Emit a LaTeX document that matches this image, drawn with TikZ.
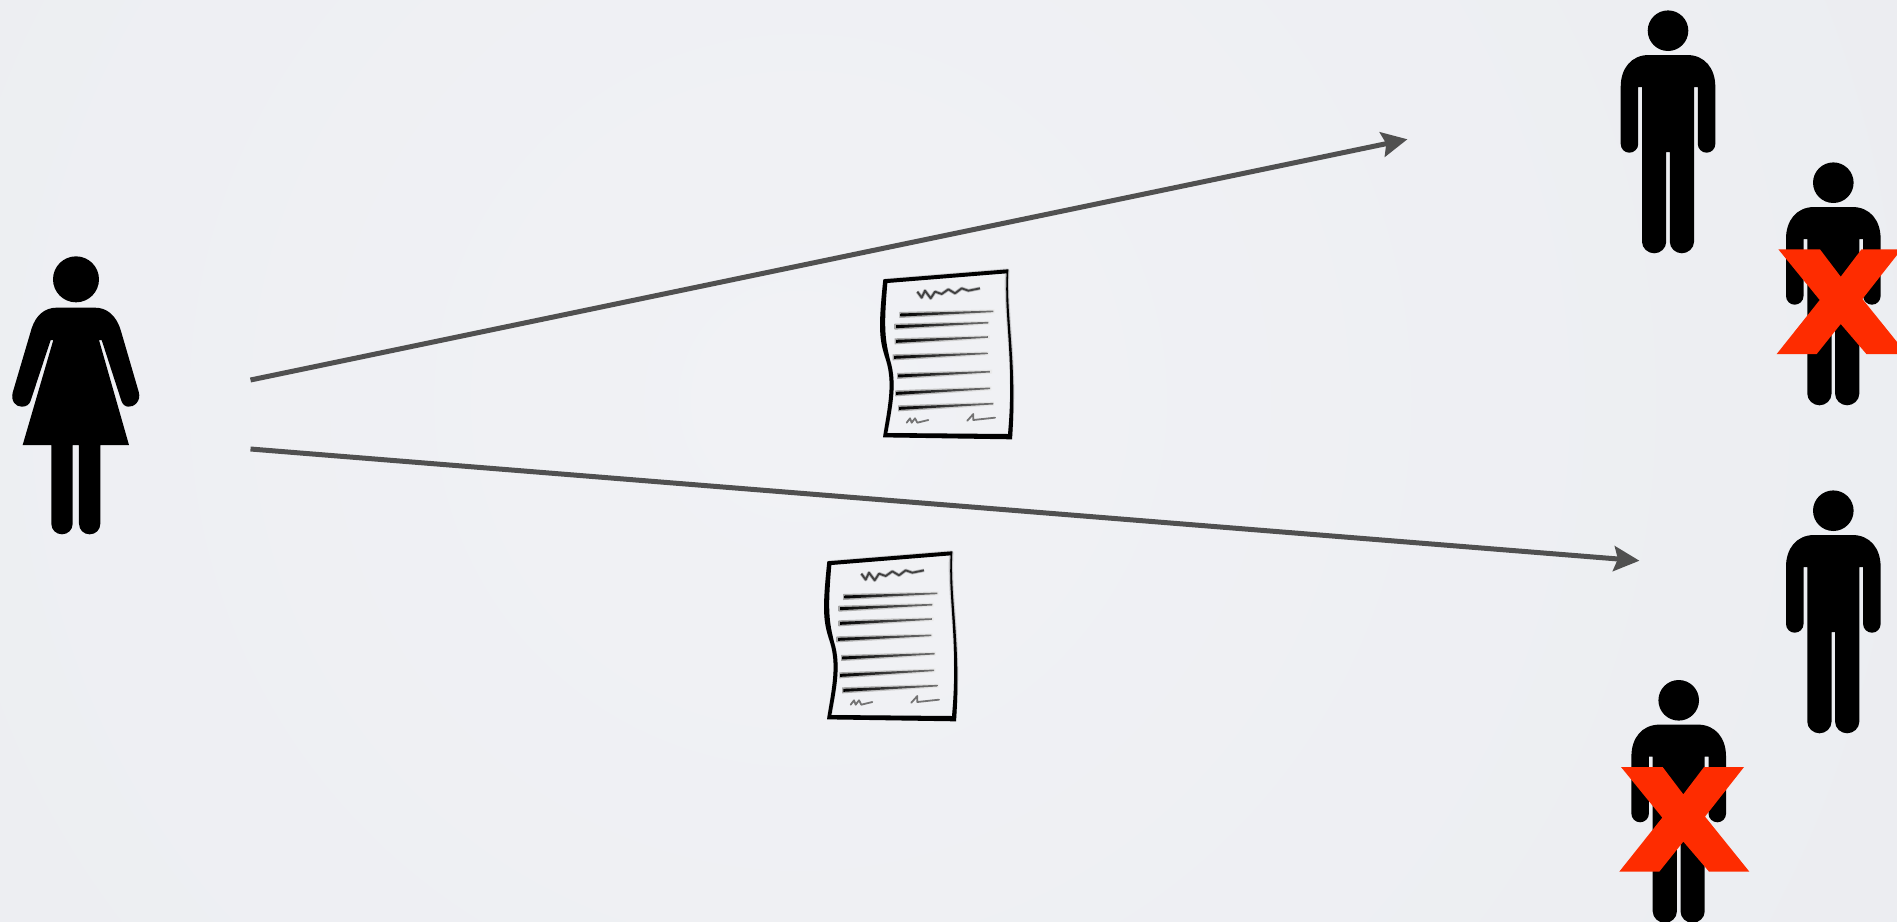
\documentclass[tikz,border=0pt]{standalone}
\usetikzlibrary{calc}
\definecolor{arrowgray}{HTML}{505050}
\definecolor{crossred}{HTML}{FE2C00}
\definecolor{bgin}{HTML}{F1F2F5}
\definecolor{bgout}{HTML}{E7E9EE}
\newcommand{\connect}[2]{%
  \draw[connector] (#1) -- ($(#2)!18pt!(#1)$);
  \fill[arrowgray] (#2) -- ($(#2)!26pt!(#1)!13pt!90:(#1)$) -- ($(#2)!21.5pt!(#1)$) -- ($(#2)!26pt!(#1)!13pt!-90:(#1)$) -- cycle;
}
\tikzset{
  x=1pt,y=-1pt,
  connector/.style={draw=arrowgray,line width=5pt},
  figure/.style={fill=black,draw=none},
  sign/.style={draw=black!55,line width=1.8pt,line join=round,line cap=round},
  man/.pic={
    \fill[figure] (0,0) circle (20.3);
    \fill[figure] (-47.3,113.35) -- (-47.3,56)
      .. controls (-47.3,38) and (-37,24.3) .. (-19,24.3) -- (19,24.3)
      .. controls (37,24.3) and (47.3,38) .. (47.3,56) -- (47.3,113.35)
      .. controls (47.3,118.13) and (43.43,122) .. (38.65,122)
      .. controls (33.87,122) and (29.8,118.13) .. (29.8,113.35)
      -- (29.8,56.3) -- (26,56.3) -- (26,211.1)
      .. controls (26,217.45) and (20.15,222.6) .. (13.8,222.6)
      .. controls (7.45,222.6) and (1.8,217.45) .. (1.8,211.1)
      -- (1.8,121.3) -- (-1.8,121.3) -- (-1.8,211.1)
      .. controls (-1.8,217.45) and (-7.45,222.6) .. (-13.8,222.6)
      .. controls (-20.15,222.6) and (-26,217.45) .. (-26,211.1)
      -- (-26,56.3) -- (-29.8,56.3) -- (-29.8,113.35)
      .. controls (-29.8,118.13) and (-33.87,122) .. (-38.65,122)
      .. controls (-43.43,122) and (-47.3,118.13) .. (-47.3,113.35) -- cycle;
  },
  cross/.pic={
    \fill[crossred] (-62.3,-27.3) -- (-20.7,-27.3) -- (0,0) -- (20.7,-27.3) -- (60.7,-27.3)
      -- (21.7,22.3) -- (66,77.3) -- (25.7,77.3) -- (0,47.3) -- (-24,77.3) -- (-64,77.3)
      -- (-21,23.3) -- cycle;
  },
  paper/.pic={
    % soft halo of the outline
    \draw[black,opacity=.14,line width=4.5pt,line join=round]
      (76,92) -- (442,62)
      .. controls (434,200) and (470,340) .. (450,560) -- (76,555)
      .. controls (90,470) and (106,400) .. (84,330)
      .. controls (66,270) and (60,240) .. (76,92) -- cycle;
    \draw[black,opacity=.2,line width=2.6pt,line join=round]
      (76,92) -- (442,62)
      .. controls (434,200) and (470,340) .. (450,560) -- (76,555)
      .. controls (90,470) and (106,400) .. (84,330)
      .. controls (66,270) and (60,240) .. (76,92) -- cycle;
    % outline with varying thickness
    \fill[black,even odd rule]
      (70,88) -- (445,58)
      .. controls (437,200) and (472,340) .. (456,568) -- (69,562)
      .. controls (84,470) and (100,400) .. (78,330)
      .. controls (58,270) and (54,240) .. (70,88) -- cycle
      (82,99) -- (440,70)
      .. controls (432,200) and (464,340) .. (444,552) -- (82,549)
      .. controls (96,470) and (112,400) .. (90,330)
      .. controls (76,270) and (70,240) .. (82,99) -- cycle;
    % text lines
    \foreach \xa/\ya/\xb/\yb in {122/195/400/184,108/230/385/218,108/274/385/261,102/322/382/310,115/378/392/365,110/430/390/415,118/475/400/461}{
      \shade[left color=black!35,right color=black!8,draw=none]
        (\xa-4,\ya-9) -- (\xb+4,\yb-6) -- (\xb+4,\yb+6) -- (\xa-4,\ya+9) -- cycle;
      \shade[left color=black,right color=black!55,draw=none]
        (\xa,\ya-4.5) -- (\xb,\yb-2.4) -- (\xb,\yb+2.4) -- (\xa,\ya+4.5) -- cycle;
    }
    % signature and scribbles
    \draw[black,opacity=.25,line width=3.4pt,line join=round]
      (172,125) -- (185,143) -- (195,122) -- (212,145) -- (225,125) -- (245,132) -- (265,118) -- (285,130) -- (305,115) -- (325,122) -- (360,115);
    \draw[black!75,line width=1.8pt,line join=round]
      (172,125) -- (185,143) -- (195,122) -- (212,145) -- (225,125) -- (245,132) -- (265,118) -- (285,130) -- (305,115) -- (325,122) -- (360,115);
    \draw[sign] (140,518) -- (150,505) -- (155,518) -- (165,505) -- (172,518) -- (205,510);
    \draw[sign] (322,512) -- (340,492) -- (340,510) -- (405,503);
  }
}
\begin{document}
\begin{tikzpicture}
\useasboundingbox (0,0) rectangle (1897,921);
\begin{scope}
  \clip (0,0) rectangle (1897,921);
  \fill[bgin] (0,0) rectangle (1897,921);
  \shade[inner color=bgin,outer color=bgout] (800,400) circle (2200);

  % woman
  \begin{scope}[shift={(0,240)},scale=0.33333]
    \fill[figure] (228,118) circle (69);
    \fill[figure] (170,203) -- (285,203)
      .. controls (320,203) and (348,225) .. (362,270) -- (416,455)
      .. controls (425,485) and (400,502) .. (385,500)
      .. controls (375,500) and (367,492) .. (364,482)
      -- (305,300) -- (297,300) -- (387,615) -- (301,615) -- (301,851)
      .. controls (301,869) and (287,883) .. (269,883)
      .. controls (251,883) and (237,869) .. (237,851)
      -- (237,615) -- (218,615) -- (218,851)
      .. controls (218,869) and (204,883) .. (186,883)
      .. controls (168,883) and (154,869) .. (154,851)
      -- (154,615) -- (68,615) -- (160,300) -- (152,300) -- (92,482)
      .. controls (89,492) and (80,501) .. (65,500)
      .. controls (48,500) and (32,485) .. (38,458)
      -- (95,265) .. controls (108,225) and (135,203) .. (170,203) -- cycle;
  \end{scope}

  % men
  \pic (m1) at (1668,30.7) {man};
  \pic (m2) at (1833.3,182.7) {man};
  \pic (m3) at (1833.3,510.7) {man};
  \pic (m4) at (1678.7,700.3) {man};
  \pic (x2) at (1840.7,276.7) {cross};
  \pic (x4) at (1683.3,794.3) {cross};

  % documents
  \pic (d1) at (860,250) [scale=0.33333] {paper};
  \pic (d2) at (804,532) [scale=0.33333] {paper};

  % connectors
  \coordinate (s1) at (250.5,380);
  \coordinate (t1) at (1407.3,139.3);
  \coordinate (s2) at (250.5,449);
  \coordinate (t2) at (1639.3,560.7);
  \connect{s1}{t1}
  \connect{s2}{t2}
\end{scope}
\end{tikzpicture}
\end{document}
